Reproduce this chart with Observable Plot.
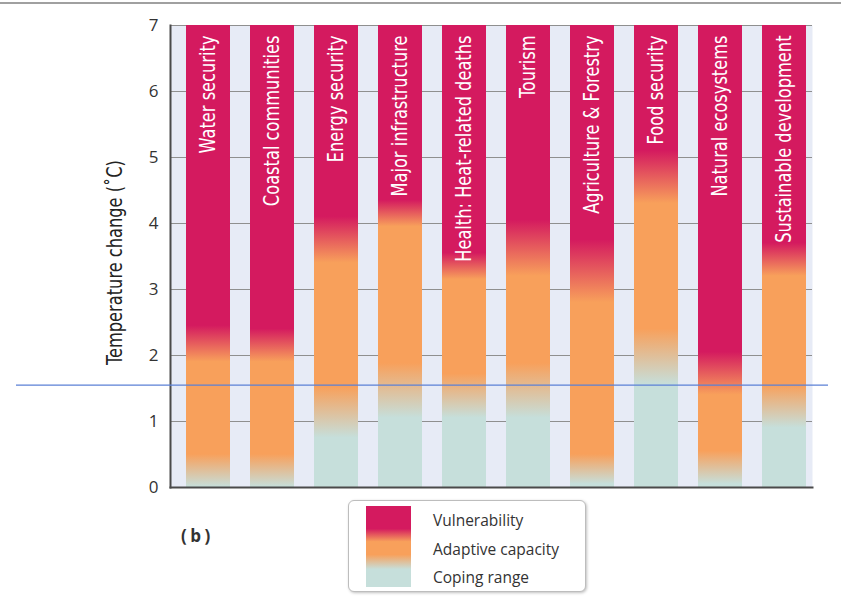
<!DOCTYPE html>
<html>
<head>
<meta charset="utf-8">
<script src="https://cdn.jsdelivr.net/npm/d3@7"></script>
<script src="https://cdn.jsdelivr.net/npm/@observablehq/plot@0.6"></script>
<style>
  html, body { margin: 0; padding: 0; background: #fff; }
  #wrap { position: relative; width: 841px; height: 597px; overflow: hidden; font-family: "Open Sans", sans-serif; }
  #topline { position: absolute; left: 0; top: 2px; width: 841px; height: 2px; background: #a0a0a0; }
  #legend { position: absolute; left: 348px; top: 500px; width: 236px; height: 90px; border: 1px solid #bdbdbd; border-radius: 6px; box-shadow: 1px 1px 3px rgba(0,0,0,0.25); background: #fff; }
  #swatch { position: absolute; left: 17px; top: 5px; width: 45px; height: 81px; }
  .lab { position: absolute; left: 84px; font-size: 15.5px; color: #333; line-height: 1; }
  #panel { position: absolute; left: 181px; top: 524px; font-size: 17px; letter-spacing: 3.5px; font-weight: bold; color: #333; }
</style>
</head>
<body>
<div id="wrap">
  <div id="chart"></div>
  <div id="topline"></div>
  <div id="panel">(b)</div>
  <div id="legend">
    <div id="swatch"></div>
  </div>
</div>
<script>
// ---- data ----
const categories = ["Water security", "Coastal communities", "Energy security", "Major infrastructure",
  "Health: Heat-related deaths", "Tourism", "Agriculture & Forestry", "Food security",
  "Natural ecosystems", "Sustainable development"];
// upper limit of pure coping range (°C)
const copingTop    = [0.0, 0.0, 0.75, 1.05, 1.05, 1.05, 0.05, 1.55, 0.05, 0.9];
// where pure adaptive capacity begins
const adaptiveFrom = [0.5, 0.5, 1.52, 1.88, 1.72, 1.88, 0.5, 2.4, 0.55, 1.55];
// where pure adaptive capacity ends
const adaptiveTo   = [1.9, 1.9, 3.4, 3.95, 3.15, 3.2, 2.8, 4.3, 1.4, 3.2];
// where pure vulnerability begins
const vulnFrom     = [2.45, 2.4, 4.1, 4.35, 3.55, 4.05, 3.75, 5.1, 2.05, 3.7];
const yMax = 7;
const yTicks = [0, 1, 2, 3, 4, 5, 6, 7];
const referenceLine = 1.55;
const legendLabels = ["Vulnerability", "Adaptive capacity", "Coping range"];

const colors = { coping: "#c6dfdb", adaptive: "#f8a05b", vuln: "#d41a5f" };

const rows = categories.map((name, i) => ({
  name, i, top: yMax,
  copingTop: copingTop[i], adaptiveFrom: adaptiveFrom[i],
  adaptiveTo: adaptiveTo[i], vulnFrom: vulnFrom[i]
}));

const condensed = "'DejaVu Sans Condensed', sans-serif";

const plot = Plot.plot({
  width: 841,
  height: 497,
  marginTop: 25,
  marginBottom: 10,
  marginLeft: 170,
  marginRight: 29,
  style: { fontFamily: "'Open Sans', sans-serif", color: "#333", background: "transparent" },
  x: { domain: categories, paddingInner: 0.315, paddingOuter: 0.157, align: 0.7, axis: null },
  y: { domain: [0, yMax] },
  color: { type: "identity" },
  marks: [
    Plot.frame({ fill: "#e7ebf6", stroke: "none" }),
    Plot.gridY(yTicks, { stroke: "#8f8f8f", strokeOpacity: 1, strokeWidth: 1 }),
    Plot.barY(rows, { x: "name", y1: 0, y2: "top", fill: d => `url(#grad${d.i})` }),
    Plot.text(rows, {
      x: "name", y: "top", text: "name", rotate: -90, textAnchor: "end", dy: 10,
      fill: "white", fontSize: 21, fontFamily: condensed
    }),
    Plot.axisY(yTicks, { tickSize: 0, tickPadding: 12, fontSize: 17, label: null, tickFormat: d => String(d) }),
    Plot.frame({ anchor: "left", stroke: "#4a4a4a", strokeWidth: 2 }),
    Plot.frame({ anchor: "bottom", stroke: "#4a4a4a", strokeWidth: 2 }),
    Plot.ruleY([referenceLine], { stroke: "#5b80d6", strokeWidth: 1.3, insetLeft: -154, insetRight: -16 }),
    Plot.text(["Temperature change (˚C)"], {
      frameAnchor: "left", textAnchor: "middle", dx: -55, dy: 6, rotate: -90, text: d => d,
      fontSize: 21, fill: "#222", fontFamily: condensed
    })
  ]
});

// narrow the condensed labels along their reading direction
d3.select(plot).selectAll("g[font-family*='Condensed'] text").each(function () {
  const t = this.getAttribute("transform") || "";
  this.setAttribute("transform", t + " scale(0.86,1)");
});

// gradients for each bar, positioned through the y scale
const ys = plot.scale("y");
const y0 = ys.apply(0), y1 = ys.apply(yMax);
const off = v => (ys.apply(v) - y0) / (y1 - y0);
const defs = d3.select(plot).insert("defs", ":first-child");
rows.forEach(r => {
  const g = defs.append("linearGradient")
    .attr("id", `grad${r.i}`)
    .attr("gradientUnits", "userSpaceOnUse")
    .attr("x1", 0).attr("x2", 0).attr("y1", y0).attr("y2", y1);
  [[0, colors.coping], [r.copingTop, colors.coping], [r.adaptiveFrom, colors.adaptive],
   [r.adaptiveTo, colors.adaptive], [r.vulnFrom, colors.vuln], [yMax, colors.vuln]]
    .forEach(([v, c]) => g.append("stop").attr("offset", off(v)).attr("stop-color", c));
});
document.getElementById("chart").appendChild(plot);

// legend
document.getElementById("swatch").style.background =
  `linear-gradient(to bottom, ${colors.vuln} 0%, ${colors.vuln} 28%, ${colors.adaptive} 44%, ${colors.adaptive} 60%, ${colors.coping} 78%, ${colors.coping} 100%)`;
const legend = document.getElementById("legend");
legendLabels.forEach((t, k) => {
  const el = document.createElement("div");
  el.className = "lab";
  el.textContent = t;
  el.style.top = (12 + k * 28.5) + "px";
  legend.appendChild(el);
});
</script>
</body>
</html>
